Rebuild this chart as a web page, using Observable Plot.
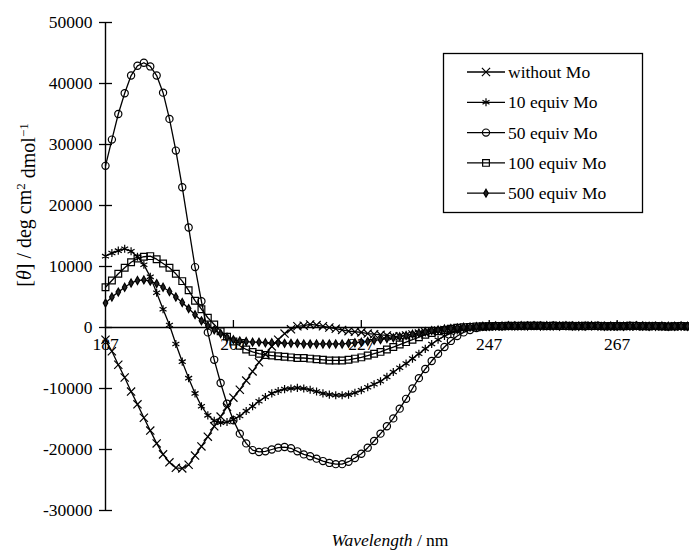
<!DOCTYPE html>
<html><head><meta charset="utf-8">
<script src="https://cdn.jsdelivr.net/npm/d3@7"></script>
<script src="https://cdn.jsdelivr.net/npm/@observablehq/plot@0.6"></script>
<style>
html,body{margin:0;padding:0;background:#fff;}
#chart{width:689px;height:553px;}
</style></head><body><div id="chart"></div>
<script>
// ---- data ----
const wavelengths = [
  187,188,189,190,191,192,193,194,195,196,
  197,198,199,200,201,202,203,204,205,206,
  207,208,209,210,211,212,213,214,215,216,
  217,218,219,220,221,222,223,224,225,226,
  227,228,229,230,231,232,233,234,235,236,
  237,238,239,240,241,242,243,244,245,246,
  247,248,249,250,251,252,253,254,255,256,
  257,258,259,260,261,262,263,264,265,266,
  267,268,269,270,271,272,273,274,275,276,
  277,278];
const withoutMo = [
  -2000,-3900,-6100,-8200,-10500,-12600,-14800,-16900,-19000,-20800,
  -22100,-23000,-23100,-22500,-21000,-19500,-17900,-16200,-14600,-13000,
  -11500,-10200,-8700,-7200,-5700,-4400,-3100,-2000,-1000,-300,
  200,300,500,400,200,0,-200,-400,-600,-700,
  -800,-1000,-1100,-1200,-1300,-1450,-1450,-1300,-1150,-1000,
  -800,-650,-500,-400,-300,-200,-100,0,50,100,
  150,150,200,200,250,200,250,300,250,200,
  250,300,300,250,200,250,300,250,200,150,
  200,250,200,150,200,250,200,150,200,200,
  150,200];
const equiv10 = [
  11700,12200,12600,12900,12500,11600,10300,8300,5700,3000,
  400,-2700,-5600,-8300,-10800,-12900,-14400,-15300,-15600,-15500,
  -15100,-14500,-13700,-12900,-12100,-11400,-10800,-10400,-10100,-10000,
  -9900,-10000,-10200,-10500,-10800,-11000,-11100,-11100,-11000,-10700,
  -10300,-9800,-9300,-8800,-8100,-7300,-6600,-5900,-5100,-4300,
  -3500,-2700,-2000,-1400,-900,-500,-200,0,100,150,
  200,250,200,250,300,250,300,250,200,250,
  300,250,200,250,300,250,200,200,250,200,
  150,200,250,200,200,150,200,250,200,150,
  200,200];
const equiv50 = [
  26500,30800,35000,38400,41300,42900,43400,42800,41300,38500,
  34200,29000,23000,16400,9900,4300,-800,-5300,-9100,-12500,
  -15200,-17400,-19000,-20100,-20400,-20300,-20000,-19700,-19600,-19800,
  -20300,-20800,-21100,-21500,-21900,-22200,-22400,-22400,-22000,-21400,
  -20700,-19700,-18600,-17400,-16200,-14900,-13300,-11700,-10000,-8300,
  -6800,-5500,-4300,-3200,-2200,-1400,-800,-400,-100,100,
  200,250,200,250,300,250,300,350,300,250,
  300,250,300,300,250,200,250,300,250,200,
  250,200,250,300,250,200,250,200,150,200,
  250,200];
const equiv100 = [
  6600,7700,8800,9800,10700,11300,11600,11700,11200,10500,
  9800,8800,7600,6100,4400,3000,1600,500,-600,-1500,
  -2300,-3000,-3600,-4000,-4300,-4500,-4600,-4700,-4800,-4900,
  -5000,-5000,-5100,-5200,-5300,-5400,-5400,-5400,-5300,-5100,
  -4900,-4600,-4300,-4000,-3600,-3200,-2800,-2400,-2000,-1600,
  -1200,-900,-600,-400,-200,-50,50,100,150,200,
  200,250,250,300,250,300,300,250,300,250,
  300,250,250,200,250,300,250,250,200,250,
  200,250,300,250,200,200,250,200,150,200,
  250,200];
const equiv500 = [
  4000,5000,5800,6600,7300,7700,7800,7600,7200,6600,
  5900,5000,4100,3100,2100,1100,300,-400,-1000,-1600,
  -2000,-2200,-2300,-2400,-2400,-2500,-2500,-2500,-2600,-2600,
  -2600,-2700,-2700,-2700,-2700,-2700,-2700,-2700,-2600,-2500,
  -2400,-2300,-2100,-2000,-1800,-1700,-1500,-1300,-1100,-900,
  -700,-500,-400,-250,-150,-50,50,100,150,200,
  200,250,250,300,250,300,250,300,250,300,
  250,250,300,250,200,250,300,250,200,250,
  250,200,250,300,250,200,200,250,200,200,
  250,200];
const seriesNames = ["without Mo", "10 equiv Mo", "50 equiv Mo", "100 equiv Mo", "500 equiv Mo"];
const yTicks = [-30000, -20000, -10000, 0, 10000, 20000, 30000, 40000, 50000];
const xTicks = [187, 207, 227, 247, 267];
const xDomain = [187, 278];
const yDomain = [-30000, 50000];
const xTitle = "Wavelength";
const xUnit = " / nm";

// ---- layout ----
const W = 689, H = 553, ML = 105, MR = 2, MT = 22, MB = 43;
const FONT = "'Liberation Serif', 'Times New Roman', serif";
const zeroPx = d3.scaleLinear(yDomain, [H - MB, MT])(0);

const series = [
  {name: seriesNames[0], values: withoutMo, symbol: "times",    r: 3.8, fill: "none"},
  {name: seriesNames[1], values: equiv10,   symbol: "asterisk", r: 3.8, fill: "none"},
  {name: seriesNames[2], values: equiv50,   symbol: "circle",   r: 3.6, fill: "none"},
  {name: seriesNames[3], values: equiv100,  symbol: "square",   r: 3.8, fill: "none"},
  {name: seriesNames[4], values: equiv500,  symbol: "diamond",  r: 2.4, fill: "#222"}
];
const table = s => wavelengths.map((w, i) => ({w, v: s.values[i]}));

const plot = Plot.plot({
  width: W, height: H,
  marginLeft: ML, marginRight: MR, marginTop: MT, marginBottom: MB,
  style: {fontFamily: FONT, fontSize: "17.5px", background: "white", color: "black"},
  x: {domain: xDomain, axis: null},
  y: {domain: yDomain, axis: null},
  marks: [
    Plot.ruleX([xDomain[0]], {stroke: "black", strokeWidth: 1.4}),
    Plot.ruleY([0], {stroke: "black", strokeWidth: 1.3}),
    Plot.tickY(yTicks, {y: d => d, stroke: "black", strokeWidth: 1.3, insetLeft: -6, insetRight: (W - ML - MR) - 7}),
    Plot.axisY({ticks: yTicks, tickSize: 0, tickPadding: 13, tickFormat: d => String(d), label: null, fill: "black"}),
    Plot.tickX(xTicks, {x: d => d, stroke: "black", strokeWidth: 1.3, insetTop: zeroPx - MT - 7, insetBottom: H - MB - zeroPx}),
    Plot.text(xTicks, {x: d => d, y: 0, text: d => String(d), dy: 17, fill: "black", fontSize: 17.5}),
    ...series.flatMap(s => [
      Plot.line(table(s), {x: "w", y: "v", stroke: "black", strokeWidth: 1.3}),
      Plot.dot(table(s), {x: "w", y: "v", symbol: () => s.symbol, r: s.r, stroke: "black", strokeWidth: 1.2, fill: s.fill})
    ])
  ]
});
document.getElementById("chart").appendChild(plot);

// ---- legend, axis titles ----
const svg = d3.select(plot);
const lg = svg.append("g").attr("font-family", FONT).attr("font-size", 17.5).attr("text-anchor", "start");
lg.append("rect").attr("x", 443.5).attr("y", 53.5).attr("width", 199).attr("height", 159)
  .attr("fill", "white").attr("stroke", "black").attr("stroke-width", 1.3);
const symMap = {times: d3.symbolTimes, asterisk: d3.symbolAsterisk, circle: d3.symbolCircle, square: d3.symbolSquare, diamond: d3.symbolDiamond};
series.forEach((s, i) => {
  const cy = 72 + i * 30.3;
  lg.append("line").attr("x1", 467).attr("x2", 505).attr("y1", cy).attr("y2", cy).attr("stroke", "black").attr("stroke-width", 1.3);
  lg.append("path").attr("transform", `translate(486,${cy})`)
    .attr("d", d3.symbol(symMap[s.symbol], Math.PI * s.r * s.r)())
    .attr("stroke", "black").attr("stroke-width", 1.2).attr("fill", s.fill);
  lg.append("text").attr("x", 508).attr("y", cy).attr("dy", "0.35em").attr("text-anchor", "start").attr("fill", "black").text(s.name);
});

const xt = svg.append("text").attr("x", 390).attr("y", 546).attr("text-anchor", "middle")
  .attr("font-family", FONT).attr("font-size", 17.5).attr("fill", "black");
xt.append("tspan").attr("font-style", "italic").text(xTitle);
xt.append("tspan").text(xUnit);

const yt = svg.append("text").attr("transform", "translate(31,205) rotate(-90)").attr("text-anchor", "middle")
  .attr("font-family", FONT).attr("font-size", 20).attr("fill", "black");
yt.append("tspan").text("[");
yt.append("tspan").attr("font-style", "italic").text("θ");
yt.append("tspan").text("] / deg cm");
yt.append("tspan").attr("font-size", 13).attr("dy", "-0.5em").text("2");
yt.append("tspan").attr("dy", "0.5em").text(" dmol");
yt.append("tspan").attr("font-size", 13).attr("dy", "-0.5em").text("−1");
</script>
</body></html>
